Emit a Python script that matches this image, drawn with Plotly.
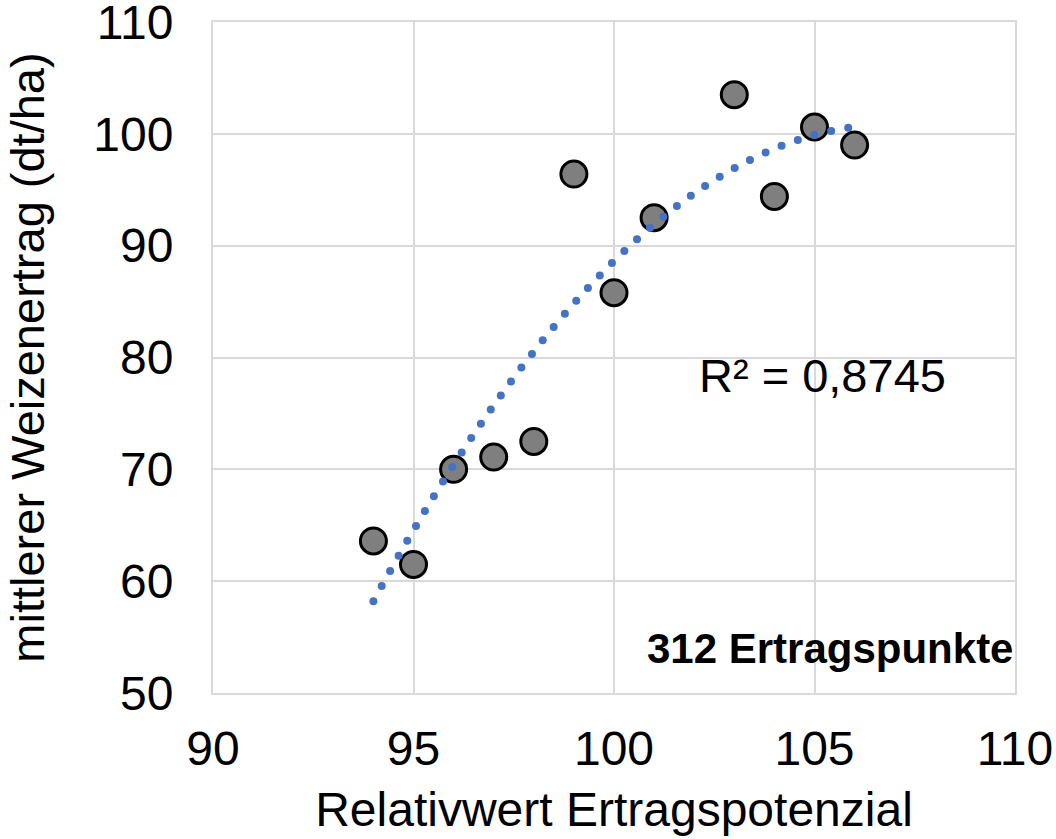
import numpy as np
import plotly.graph_objects as go

# Relative yield potential vs. mean wheat yield
potenzial = [94, 95, 96, 97, 98, 99, 100, 101, 103, 104, 105, 106]
ertrag = [63.6, 61.5, 70.0, 71.1, 72.5, 96.4, 85.8, 92.5, 103.5, 94.4, 100.6, 99.0]

x_ticks = [90, 95, 100, 105, 110]
y_ticks = [50, 60, 70, 80, 90, 100, 110]
r2_label = "R² = 0,8745"
note_label = "312 Ertragspunkte"

W, H = 1056, 839
ML, MR, MT, MB = 213, 41, 22, 146
xr, yr = (90, 110), (50, 110)

FONT = "Liberation Sans, Arial, sans-serif"

# second-order polynomial trend, drawn as round dots spaced evenly along the curve
coef = np.polyfit(potenzial, ertrag, 2)
xs = np.linspace(min(potenzial), max(potenzial), 4000)
ys = np.polyval(coef, xs)
sx = (W - ML - MR) / (xr[1] - xr[0])
sy = (H - MT - MB) / (yr[1] - yr[0])
arc = np.concatenate([[0], np.cumsum(np.hypot(np.diff(xs) * sx, np.diff(ys) * sy))])
steps = np.arange(0, arc[-1] - 5, 17.3)
trend_x = np.interp(steps, arc, xs)
trend_y = np.polyval(coef, trend_x)

fig = go.Figure()
fig.add_trace(go.Scatter(
    x=potenzial, y=ertrag, mode="markers",
    marker=dict(size=26, color="#7f7f7f", line=dict(color="black", width=3)),
    showlegend=False, hoverinfo="x+y",
))
fig.add_trace(go.Scatter(
    x=trend_x, y=trend_y, mode="markers",
    marker=dict(size=8, color="#4472c4"),
    showlegend=False, hoverinfo="skip",
))

axis_common = dict(
    showgrid=True, gridcolor="#d9d9d9", gridwidth=2,
    showline=True, linecolor="#d9d9d9", linewidth=2, mirror=True,
    zeroline=False, ticks="", automargin=False,
    ticklabeloverflow="allow",
    tickfont=dict(family=FONT, size=48, color="black"),
)

fig.update_layout(
    width=W, height=H,
    margin=dict(l=ML, r=MR, t=MT, b=MB, pad=0),
    paper_bgcolor="white", plot_bgcolor="white",
    xaxis=dict(
        range=list(xr), tickvals=x_ticks, ticklabelstandoff=12,
        title=dict(text="Relativwert Ertragspotenzial", standoff=19,
                   font=dict(family=FONT, size=48, color="black")),
        **axis_common,
    ),
    yaxis=dict(
        range=list(yr), tickvals=y_ticks, ticklabelstandoff=28,
        title=dict(text="mittlerer Weizenertrag (dt/ha)", standoff=34,
                   font=dict(family=FONT, size=47, color="black")),
        **axis_common,
    ),
    annotations=[
        dict(x=102.07, y=78.35, xref="x", yref="y", text=r2_label,
             showarrow=False, xanchor="left", yanchor="middle",
             font=dict(family=FONT, size=47, color="black")),
        dict(x=110, y=54.0, xref="x", yref="y", text="<b>" + note_label + "</b>",
             showarrow=False, xanchor="right", yanchor="middle",
             font=dict(family=FONT, size=42, color="black")),
    ],
)

fig.write_html("out.html")
